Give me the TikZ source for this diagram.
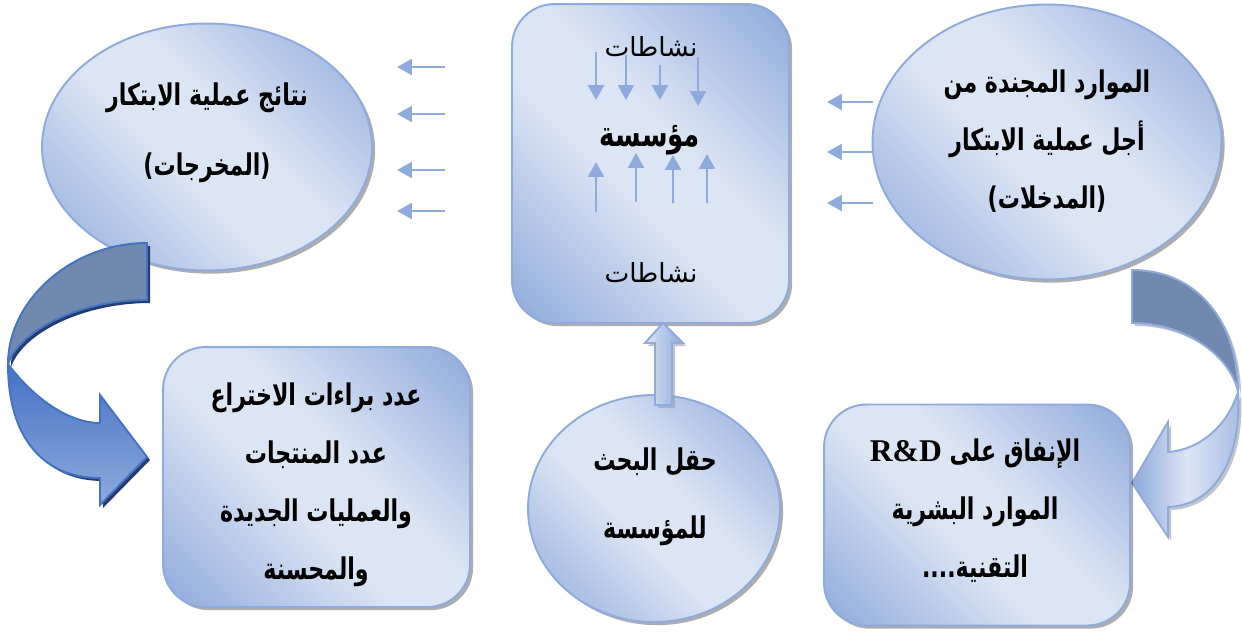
\documentclass[tikz,border=0pt]{standalone}
\usepackage{fontspec}
\TeXXeTstate=1
\newfontfamily\arabicfont[Script=Arabic]{DejaVu Sans}
\newfontfamily\arabicbold[Script=Arabic,FakeStretch=0.74]{DejaVu Sans}
\newfontfamily\rdfont{Liberation Serif}
\usetikzlibrary{shapes.geometric,arrows.meta,shadows}

\definecolor{paleblue}{RGB}{220,229,244}
\definecolor{midblue}{RGB}{140,168,218}
\definecolor{rimblue}{RGB}{143,170,220}
\definecolor{slateblue}{RGB}{113,137,174}
\definecolor{royalblue}{RGB}{68,114,196}
\definecolor{navyshade}{RGB}{36,60,110}
\definecolor{greyshade}{RGB}{150,158,172}

% diagonal wash: darker at two opposite corners, pale across the middle
\pgfdeclareverticalshading{panelwash}{100bp}{color(0bp)=(midblue); color(14bp)=(midblue); color(44bp)=(paleblue); color(56bp)=(paleblue); color(86bp)=(midblue); color(100bp)=(midblue)}

% outlines of the two curved block arrows (pixel units)
\newcommand\outBack{(147,243) .. controls (72,243) and (8,300) .. (8,364) .. controls (20,330) and (80,300) .. (147,300) -- cycle}
\newcommand\outFront{(8,364) .. controls (8,440) and (45,478) .. (100,478) -- (100,505) -- (147,457) -- (100,395) -- (100,423) .. controls (70,423) and (35,400) .. (8,364) -- cycle}
\newcommand\inBack{(1132,270) .. controls (1200,270) and (1238,325) .. (1238,392) .. controls (1232,360) and (1190,323) .. (1132,323) -- cycle}
\newcommand\inFront{(1238,392) .. controls (1242,450) and (1220,505) .. (1168,507) -- (1168,537) -- (1132,483) -- (1168,422) -- (1168,452) .. controls (1200,450) and (1228,425) .. (1238,392) -- cycle}
\newcommand\upShaft{(663,323) -- (683,343) -- (672,343) -- (672,405) -- (655,405) -- (655,343) -- (645,343) -- cycle}

\begin{document}
\begin{tikzpicture}[x=0.02cm,y=-0.02cm,
  panel/.style={draw=rimblue, line width=1.1pt,
    shade, shading=panelwash, shading angle=-45,
    drop shadow={shadow xshift=1.8pt, shadow yshift=-1.8pt, fill=black, opacity=0.32},
    inner sep=0pt},
  roundbox/.style={panel, rectangle, rounded corners=0.85cm},
  oval/.style={panel, ellipse},
  boldtext/.style={font=\arabicbold\bfseries\fontsize{17}{#1}\selectfont,
    align=center, inner sep=0pt, text=black},
  plaintext/.style={font=\arabicfont\fontsize{15}{15}\selectfont, inner sep=0pt},
  flow/.style={draw=rimblue, line width=1.6pt, -{Triangle[length=8.5pt,width=9pt]}},
]
\useasboundingbox (0,0) rectangle (1242,637);
\fill[white] (0,0) rectangle (1242,637);

% ---- inputs, the firm, outputs ----
\path[fill=greyshade, opacity=.6, shift={(3,3)}] \inBack;
\path[fill=greyshade, opacity=.6, shift={(3,3)}] \inFront;
\path[fill=slateblue, draw=rimblue, line width=1.1pt] \inBack;
\path[left color=midblue, right color=rimblue!70!paleblue, middle color=paleblue, draw=rimblue, line width=1.1pt] \inFront;

\node[oval, minimum width=6.6cm, minimum height=4.94cm] (outcomes) at (207,147) {};
\node[oval, minimum width=6.98cm, minimum height=5.5cm] (inputs) at (1047,142) {};
\node[roundbox, minimum width=5.54cm, minimum height=6.38cm] (firm) at (650.5,163.5) {};

\node[boldtext=40pt] (outcomesText) at (207,133)
  {\beginR نتائج عملية الابتكار\endR\\\beginR (المخرجات)\endR};
\node[boldtext=33pt] (inputsText) at (1047,141)
  {\beginR الموارد المجندة من\endR\\\beginR أجل عملية الابتكار\endR\\\beginR (المدخلات)\endR};

\node[plaintext] (actTop) at (651,47) {\beginR نشاطات\endR};
\node[font=\arabicbold\bfseries\fontsize{20}{20}\selectfont, inner sep=0pt] (firmName) at (650,140) {\beginR مؤسسة\endR};
\node[plaintext] (actBottom) at (651,273) {\beginR نشاطات\endR};

% activities acting on the firm
\foreach \x/\a/\b in {596/52/100, 626/55/100, 660/65/100, 698/57/106}
  \draw[flow] (\x,\a) coordinate (d\x) -- (\x,\b) coordinate (e\x);
\foreach \x/\a/\b in {596/212/162, 636/202/153, 673/203/155, 707/203/154}
  \draw[flow] (\x,\a) coordinate (u\x) -- (\x,\b) coordinate (v\x);

% flows between the three upper shapes
\foreach \y in {67,114,170,211}
  \draw[flow] (445,\y) coordinate (s\y) -- (397,\y) coordinate (t\y);
\foreach \y in {102,152,203}
  \draw[flow] (873,\y) coordinate (p\y) -- (827,\y) coordinate (q\y);

% ---- lower row ----
\node[roundbox, minimum width=6.14cm, minimum height=5.2cm] (results) at (316.5,477) {};
\node[oval, minimum width=5.04cm, minimum height=4.54cm] (field) at (654,508.5) {};
\node[roundbox, minimum width=6.12cm, minimum height=4.42cm] (spending) at (977,515) {};

\node[boldtext=33pt] (resultsText) at (316,485)
  {\beginR عدد براءات الاختراع\endR\\\beginR عدد المنتجات\endR\\\beginR والعمليات الجديدة\endR\\\beginR والمحسنة\endR};
\node[boldtext=39pt] (fieldText) at (655,497)
  {\beginR حقل البحث\endR\\\beginR للمؤسسة\endR};
\node[boldtext=33pt] (spendingText) at (975,511)
  {\beginR الإنفاق على \beginL{\rdfont\bfseries\fontsize{18}{18}\selectfont R\&D}\endL\endR\\\beginR الموارد البشرية\endR\\\beginR التقنية....\endR};

% research field feeding the firm
\path[fill=greyshade, opacity=.6, shift={(3,3)}] \upShaft;
\path[left color=paleblue, right color=midblue, draw=rimblue, line width=1.1pt] \upShaft;

% outputs turned into measurable results
\path[fill=navyshade, shift={(3,3)}] \outBack;
\path[fill=navyshade, shift={(3,3)}] \outFront;
\path[fill=slateblue, draw=royalblue, line width=1.1pt] \outBack;
\path[top color=royalblue, bottom color=rimblue, draw=royalblue, line width=1.1pt] \outFront;
\end{tikzpicture}
\end{document}
